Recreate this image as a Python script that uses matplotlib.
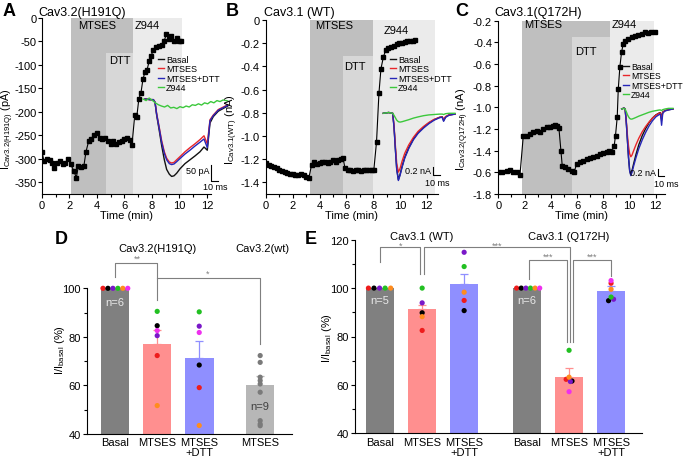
import matplotlib
matplotlib.use('Agg')
import matplotlib.pyplot as plt
import numpy as np

plt.rcParams['font.family'] = ['Liberation Sans', 'DejaVu Sans']
plt.rcParams['mathtext.default'] = 'regular'
plt.rcParams['axes.unicode_minus'] = False
plt.rcParams['axes.linewidth'] = 0.8

W, H = 683, 460

# ---- time courses (black squares) ----
tA = [0.0, 0.15, 0.35, 0.55, 0.75, 0.9, 1.1, 1.3, 1.5, 1.7,
      1.9, 2.1, 2.3, 2.5, 2.65, 2.85, 3.05, 3.2, 3.4, 3.6,
      3.8, 4.0, 4.2, 4.4, 4.6, 4.8, 5.0, 5.2, 5.4, 5.6,
      5.8, 6.0, 6.2, 6.4, 6.55, 6.75, 6.9, 7.05, 7.2, 7.35,
      7.5, 7.65, 7.8, 7.95, 8.1, 8.3, 8.5, 8.7, 8.9, 9.05,
      9.25, 9.4, 9.6, 9.8, 10.0, 10.15]
iA = [-285, -305, -300, -302, -308, -320, -308, -305, -312, -310,
      -300, -312, -325, -340, -315, -318, -315, -285, -262, -258,
      -250, -245, -255, -258, -255, -262, -268, -262, -268, -265,
      -262, -258, -255, -260, -270, -207, -210, -172, -160, -130,
      -115, -110, -92, -80, -68, -62, -60, -58, -48, -35,
      -45, -38, -48, -42, -50, -48]

tB = [0.0, 0.2, 0.4, 0.6, 0.8, 1.0, 1.2, 1.4, 1.6, 1.8,
      2.0, 2.2, 2.4, 2.6, 2.8, 3.0, 3.2, 3.4, 3.6, 3.8,
      4.0, 4.2, 4.4, 4.6, 4.8, 5.0, 5.2, 5.4, 5.6, 5.75,
      5.9, 6.1, 6.3, 6.5, 6.7, 6.9, 7.1, 7.3, 7.5, 7.7,
      7.9, 8.05, 8.25, 8.43, 8.58, 8.76, 8.93, 9.13, 9.35, 9.55,
      9.75, 9.95, 10.15, 10.35, 10.55, 10.75, 10.95, 11.15]
iB = [-1.235, -1.25, -1.26, -1.27, -1.28, -1.29, -1.30, -1.31, -1.32, -1.33,
      -1.33, -1.34, -1.34, -1.33, -1.34, -1.35, -1.36, -1.25, -1.22, -1.24,
      -1.23, -1.22, -1.22, -1.23, -1.22, -1.21, -1.22, -1.21, -1.20, -1.19,
      -1.28, -1.29, -1.29, -1.30, -1.29, -1.29, -1.30, -1.29, -1.29, -1.29,
      -1.29, -1.29, -1.05, -0.63, -0.42, -0.32, -0.26, -0.24, -0.23, -0.22,
      -0.21, -0.20, -0.20, -0.19, -0.18, -0.18, -0.18, -0.17]

tC = [0.0, 0.26, 0.64, 0.89, 1.14, 1.4, 1.65, 1.9, 2.16, 2.41,
      2.66, 2.92, 3.17, 3.42, 3.68, 3.93, 4.19, 4.31, 4.44, 4.62,
      4.77, 4.87, 5.08, 5.33, 5.58, 5.78, 5.96, 6.22, 6.47, 6.72,
      6.98, 7.23, 7.49, 7.74, 7.99, 8.25, 8.42, 8.63, 8.83, 8.93,
      9.06, 9.14, 9.26, 9.39, 9.52, 9.69, 9.9, 10.15, 10.4, 10.66,
      10.91, 11.17, 11.42, 11.67, 11.93]
iC = [-1.60, -1.594, -1.585, -1.575, -1.594, -1.60, -1.625, -1.268, -1.26, -1.246,
      -1.23, -1.215, -1.225, -1.20, -1.185, -1.185, -1.17, -1.163, -1.175, -1.194,
      -1.40, -1.538, -1.554, -1.57, -1.585, -1.60, -1.523, -1.508, -1.492, -1.477,
      -1.47, -1.46, -1.446, -1.43, -1.42, -1.41, -1.40, -1.415, -1.354, -1.26,
      -1.09, -0.83, -0.63, -0.49, -0.415, -0.385, -0.37, -0.354, -0.34, -0.332,
      -0.323, -0.308, -0.314, -0.308, -0.302]

# drug application windows (min): MTSES, DTT (start, end, top), Z944
winA = {'mtses': (2.1, 6.6), 'dtt': (4.65, 6.6, -75), 'z944': (6.6, 10.2)}
winB = {'mtses': (3.3, 8.0), 'dtt': (5.75, 8.0, -0.31), 'z944': (8.0, 12.65)}
winC = {'mtses': (1.78, 8.5), 'dtt': (5.58, 8.5, -0.35), 'z944': (8.5, 11.85)}

# ---- current traces (ms, pA / nA) ----
trA_t = [2.6, 9.1, 13.4, 15.6, 17.7, 21.2, 24.2, 27.7, 30.7, 34.2, 37.2, 40.3,
         43.7, 48.1, 54.5, 61.0, 67.5, 74.0, 79.2, 83.5, 87.0, 91.3, 97.8, 110]
trA_basal = [0, -2, -2, -10, -50, -100, -145, -190, -220, -235, -242, -240,
             -232, -218, -202, -190, -178, -165, -150, -160, -75, -55, -38, -22]
trA_mtses = [0, -2, -2, -10, -45, -90, -130, -165, -185, -197, -200, -198,
             -190, -180, -165, -152, -140, -127, -115, -140, -65, -50, -33, -18]
trA_dtt = [0, -2, -2, -10, -47, -93, -135, -170, -190, -202, -205, -203,
           -196, -186, -172, -160, -147, -135, -125, -152, -68, -52, -35, -20]
trA_z_t = [0, 4, 8, 12, 16, 20, 24, 28, 32, 36, 40, 44, 48, 52,
           56, 60, 64, 68, 72, 76, 80, 84, 88, 92, 96, 100, 104, 110]
trA_z944 = [0, -5, 3, -4, -12, -18, -22, -25, -20, -28, -26, -30, -24, -27,
            -22, -25, -18, -20, -15, -19, -12, -15, -8, -12, -5, -8, -3, -6]

trB_t = [0, 8, 14, 16, 18, 20, 22.5, 25, 28, 32, 38, 45, 52, 60, 68, 76, 84, 88, 90, 93, 98, 107]
trB_basal = [0, 0.02, 0, -0.33, -0.88, -1.38, -1.66, -1.53, -1.33, -1.1, -0.86, -0.64,
             -0.48, -0.35, -0.24, -0.16, -0.1, -0.09, -0.18, -0.09, -0.04, -0.02]
trB_mtses = [0, 0.02, 0, -0.3, -0.8, -1.25, -1.47, -1.38, -1.2, -1.0, -0.79, -0.6,
             -0.45, -0.33, -0.23, -0.15, -0.1, -0.09, -0.15, -0.08, -0.04, -0.02]
trB_dtt = [0, 0.02, 0, -0.35, -0.9, -1.4, -1.68, -1.55, -1.35, -1.12, -0.88, -0.66,
           -0.5, -0.37, -0.26, -0.17, -0.11, -0.1, -0.2, -0.1, -0.05, -0.02]
trB_z944 = [0, 0.02, 0, -0.05, -0.11, -0.17, -0.21, -0.22, -0.21, -0.19, -0.16, -0.12,
            -0.09, -0.06, -0.04, -0.03, -0.02, -0.02, -0.03, -0.01, 0, 0]

trC_t = [0, 4, 6, 8, 10, 12, 14, 16, 18, 21, 25, 30, 36, 42, 48, 54, 60, 66, 68, 70, 72, 76, 82, 90]
trC_basal = [0, 0.03, 0, -0.4, -0.95, -1.5, -1.9, -2.02, -1.9, -1.68, -1.4, -1.1,
             -0.82, -0.6, -0.42, -0.28, -0.18, -0.12, -0.11, -0.3, -0.09, -0.05, -0.02, 0]
trC_mtses = [0, 0.03, 0, -0.35, -0.8, -1.15, -1.38, -1.47, -1.42, -1.28, -1.1, -0.9,
             -0.7, -0.54, -0.4, -0.28, -0.19, -0.13, -0.12, -0.35, -0.1, -0.05, -0.02, 0]
trC_dtt = [0, 0.03, 0, -0.4, -0.95, -1.5, -1.9, -2.05, -1.95, -1.75, -1.5, -1.22,
           -0.95, -0.72, -0.52, -0.36, -0.24, -0.17, -0.16, -0.5, -0.13, -0.06, -0.03, 0]
trC_z944 = [0, 0.02, 0, -0.08, -0.17, -0.24, -0.29, -0.31, -0.31, -0.29, -0.26, -0.22,
            -0.18, -0.14, -0.1, -0.07, -0.05, -0.03, -0.03, -0.05, -0.02, 0, 0.02, 0.02]

# ---- summary bars ----
d_labels = ['Basal', 'MTSES', 'MTSES\n+DTT', 'MTSES']
d_pos = [0, 1, 2, 3.45]
d_means = [100, 77.1, 71.2, 60.2]
d_sem = [0, 5.9, 7.1, 3.8]
d_basal = [100, 100, 100, 100, 100, 100]
d_mtses = [72.3, 84.6, 80.5, 90.5, 51.7, 82.6]
d_dtt = [59.1, 68.4, 84.4, 90.3, 43.5, 81.8]
d_wt = [72.3, 69.5, 63.4, 62.0, 60.6, 57.2, 45.5, 44.1, 43.4]

e_labels = ['Basal', 'MTSES', 'MTSES\n+DTT', 'Basal', 'MTSES', 'MTSES\n+DTT']
e_pos = [0, 1, 2, 3.5, 4.5, 5.5]
e_means = [100, 91.2, 101.8, 100, 63.2, 98.6]
e_sem = [0, 1.9, 4.0, 0, 3.7, 2.2]
e_wt_basal = [100, 100, 100, 100, 100]
e_wt_mtses = [82.5, 89.8, 93.9, 100, 88.2]
e_wt_dtt = [94.9, 90.7, 114.8, 108.9, 98.3]
e_q_basal = [100, 100, 100, 100, 100, 100]
e_q_mtses = [62.3, 61.6, 61.4, 74.3, 63.2, 57.2]
e_q_dtt = [102.0, 94.8, 95.4, 96.3, 99.5, 103.1]

cell_colors = ['#ee1c1c', '#000000', '#7a18c8', '#22c022', '#ff8c1e', '#ee30ee']
bar_colors = {'basal': '#808080', 'mtses': '#ff8f8f', 'dtt': '#8f8fff', 'wt': '#b7b7b7'}
tr_colors = {'Basal': '#111111', 'MTSES': '#e8262a', 'MTSES+DTT': '#2626b8', 'Z944': '#3cc83c'}
shade = {'mtses': '#bfbfbf', 'dtt': '#d7d7d7', 'z944': '#ebebeb'}
gcol = '#7f7f7f'

fig = plt.figure(figsize=(W / 100, H / 100), dpi=100)


def fx(px):
    return px / W


def fy(py):
    return 1 - py / H


def add_ax(left, top, right, bottom):
    return fig.add_axes([left / W, 1 - bottom / H, (right - left) / W, (bottom - top) / H])


def time_course(ax, t, i, win, xlim, ylim, yticks, yticklabels):
    ax.axvspan(*win['mtses'], color=shade['mtses'], lw=0, zorder=0)
    d0, d1, dtop = win['dtt']
    ax.fill_between([d0, d1], ylim[0], dtop, color=shade['dtt'], lw=0, zorder=0)
    ax.axvspan(*win['z944'], color=shade['z944'], lw=0, zorder=0)
    ax.plot(t, i, '-s', color='k', ms=3, lw=0.8, zorder=3)
    ax.set_xlim(*xlim)
    ax.set_ylim(*ylim)
    ax.set_xticks(range(0, 13, 2))
    ax.set_xticks(range(1, 13, 2), minor=True)
    ax.set_yticks(yticks)
    ax.set_yticklabels(yticklabels)
    for s in ['top', 'right']:
        ax.spines[s].set_visible(False)
    ax.tick_params(labelsize=8, length=3, width=0.8, pad=1.5)
    ax.tick_params(which='minor', length=2, width=0.8)
    ax.set_xlabel('Time (min)', fontsize=8, labelpad=0)


def trace_ax(px0, py0, sx, sy, left, top, right, bottom):
    ax = add_ax(left, top, right, bottom)
    ax.set_xlim((left - px0) / sx, (right - px0) / sx)
    ax.set_ylim(-(bottom - py0) / sy, (py0 - top) / sy)
    ax.axis('off')
    return ax


def draw_traces(ax, t, basal, mtses, dtt, zt, z944, legend_xy, fs=6.5):
    hb, = ax.plot(t, basal, color=tr_colors['Basal'], lw=1.0, label='Basal')
    hm, = ax.plot(t, mtses, color=tr_colors['MTSES'], lw=1.0, label='MTSES')
    hd, = ax.plot(t, dtt, color=tr_colors['MTSES+DTT'], lw=1.0, label='MTSES+DTT')
    hz, = ax.plot(zt, z944, color=tr_colors['Z944'], lw=1.0, label='Z944')
    ax.legend(handles=[hb, hm, hd, hz], loc='upper left',
              bbox_to_anchor=(fx(legend_xy[0]), fy(legend_xy[1])), bbox_transform=fig.transFigure,
              frameon=False, fontsize=fs, handlelength=0.7, handletextpad=0.2,
              labelspacing=0.05, borderpad=0, borderaxespad=0)


def scale_bar(ax, x, y, dy, dx=10):
    ax.plot([x, x, x + dx], [y + dy, y, y], color='k', lw=0.8, clip_on=False)


# ---------------- Panel A ----------------
axA = add_ax(42, 19, 211, 195)
time_course(axA, tA, iA, winA, (0, 12.3), (-375, 0), range(0, -351, -50),
            [str(v) for v in range(0, -351, -50)])
axA.tick_params(axis='y', pad=1.0)
axA.text(4.0, -15, 'MTSES', fontsize=8, ha='center', va='center')
axA.text(5.65, -90, 'DTT', fontsize=8, ha='center', va='center')
axA.text(7.65, -15, 'Z944', fontsize=8, ha='center', va='center')
insA = trace_ax(143, 100, 0.77, 0.32, 138, 55, 235, 198)
draw_traces(insA, trA_t, trA_basal, trA_mtses, trA_dtt, trA_z_t, trA_z944, (158, 56))
scale_bar(insA, 88, -256, 50)
insA.text(86, -222, '50 pA', fontsize=6.5, ha='right', va='center')
insA.text(94, -274, '10 ms', fontsize=6.5, ha='center', va='center')
fig.text(fx(8), fy(129), 'I$_{Cav3.2(H191Q)}$ (pA)', rotation=90, fontsize=7.8, ha='center', va='center')
fig.text(fx(38), fy(13), 'Cav3.2(H191Q)', fontsize=9, ha='left', va='center')
fig.text(fx(9), fy(12), 'A', fontsize=13, fontweight='bold', ha='center', va='center')

# ---------------- Panel B ----------------
axB = add_ax(266, 21, 437.5, 195)
yb = [0, -0.2, -0.4, -0.6, -0.8, -1.0, -1.2, -1.4]
time_course(axB, tB, iB, winB, (0, 12.8), (-1.5, 0), yb,
            ['0', '-0.2', '-0.4', '-0.6', '-0.8', '-1.0', '-1.2', '-1.4'])
axB.text(5.05, -0.04, 'MTSES', fontsize=8, ha='center', va='center')
axB.text(6.6, -0.40, 'DTT', fontsize=8, ha='center', va='center')
axB.text(9.7, -0.086, 'Z944', fontsize=8, ha='center', va='center')
insB = trace_ax(383.3, 114.3, 0.67, 40, 378, 55, 456, 198)
draw_traces(insB, trB_t, trB_basal, trB_mtses, trB_dtt, trB_t, trB_z944, (390, 56))
scale_bar(insB, 74, -1.54, 0.2)
insB.text(71.5, -1.44, '0.2 nA', fontsize=6.5, ha='right', va='center')
insB.text(80, -1.73, '10 ms', fontsize=6.5, ha='center', va='center')
fig.text(fx(232), fy(130), 'I$_{Cav3.1(WT)}$ (nA)', rotation=90, fontsize=8, ha='center', va='center')
fig.text(fx(264), fy(13), 'Cav3.1 (WT)', fontsize=9, ha='left', va='center')
fig.text(fx(232), fy(12), 'B', fontsize=13, fontweight='bold', ha='center', va='center')

# ---------------- Panel C ----------------
axC = add_ax(498.3, 21.7, 665, 195)
yc = [-0.2, -0.4, -0.6, -0.8, -1.0, -1.2, -1.4, -1.6, -1.8]
time_course(axC, tC, iC, winC, (0, 12.7), (-1.8, -0.2), yc,
            ['-0.2', '-0.4', '-0.6', '-0.8', '-1.0', '-1.2', '-1.4', '-0.6', '-1.8'])
axC.text(3.4, -0.23, 'MTSES', fontsize=8, ha='center', va='center')
axC.text(6.64, -0.48, 'DTT', fontsize=8, ha='center', va='center')
axC.text(9.62, -0.23, 'Z944', fontsize=8, ha='center', va='center')
insC = trace_ax(621.7, 110, 0.57, 32.5, 615, 55, 683, 198)
draw_traces(insC, trC_t, trC_basal, trC_mtses, trC_dtt, trC_t, trC_z944, (623, 63), fs=6.2)
scale_bar(insC, 63.7, -2.05, 0.2)
insC.text(60.5, -1.95, '0.2 nA', fontsize=6.5, ha='right', va='center')
insC.text(77.5, -2.28, '10 ms', fontsize=6.5, ha='center', va='center')
fig.text(fx(463), fy(129), 'I$_{Cav3.2(Q172H)}$ (nA)', rotation=90, fontsize=8, ha='center', va='center')
fig.text(fx(494), fy(13), 'Cav3.1(Q172H)', fontsize=9, ha='left', va='center')
fig.text(fx(462), fy(12), 'C', fontsize=13, fontweight='bold', ha='center', va='center')


# ---------------- summary helpers ----------------
def bar_panel(ax, pos, means, sem, colors, labels, ylim, yticks, minor):
    ax.bar(pos, means, width=0.68, color=colors, zorder=1)
    for p, m, s, c in zip(pos, means, sem, colors):
        if s > 0:
            ax.errorbar(p, m, yerr=[[0], [s]], color=c, capsize=3, lw=0.9, capthick=0.9, zorder=2)
    ax.set_xticks(pos)
    ax.set_xticklabels(labels, fontsize=8, linespacing=1.0)
    ax.set_ylim(*ylim)
    ax.set_yticks(yticks)
    ax.set_yticks(minor, minor=True)
    for s in ['top', 'right']:
        ax.spines[s].set_visible(False)
    ax.tick_params(labelsize=8, length=3, width=0.8, pad=1.5)
    ax.tick_params(axis='x', length=0, pad=2.5)
    ax.tick_params(which='minor', length=2, width=0.8)


def dots(ax, x, vals, colors, dx=None):
    if dx is None:
        dx = [0] * len(vals)
    ax.scatter([x + d for d in dx], vals, s=14, c=colors, lw=0, zorder=4, clip_on=False)


def bracket(ax, x0, x1, y, y0, y1, stars, sx, sy):
    ax.plot([x0, x0, x1, x1], [y0, y, y, y1], color=gcol, lw=0.8, clip_on=False, zorder=5)
    if stars:
        ax.text(sx, sy, stars, color=gcol, fontsize=6.5, ha='center', va='center')


# ---------------- Panel D ----------------
axD = add_ax(87, 289.3, 291.7, 435)
bar_panel(axD, d_pos, d_means, d_sem,
          [bar_colors['basal'], bar_colors['mtses'], bar_colors['dtt'], bar_colors['wt']],
          d_labels, (40, 100), [40, 60, 80, 100], [50, 70, 90])
axD.set_xlim(-0.67, 4.2)
dots(axD, d_pos[0], d_basal, cell_colors, list(np.linspace(-0.29, 0.3, 6)))
dots(axD, d_pos[1], d_mtses, cell_colors)
dots(axD, d_pos[2], d_dtt, cell_colors)
dots(axD, d_pos[3], d_wt, ['#7a7a7a'] * len(d_wt))
axD.text(d_pos[0], 94.5, 'n=6', color='#e8e8e8', fontsize=8, ha='center', va='center', zorder=6)
axD.text(d_pos[3], 51.7, 'n=9', color='#404040', fontsize=8, ha='center', va='center', zorder=6)
bracket(axD, 0, 1, 110.3, 104.6, 95, '**', 0.52, 112.3)
bracket(axD, 1, d_pos[3], 104.1, 104.1, 77, '*', 2.2, 106.3)
axD.text(1, 116.8, 'Cav3.2(H191Q)', fontsize=8, ha='center', va='center')
axD.text(3.5, 116.8, 'Cav3.2(wt)', fontsize=8, ha='center', va='center')
fig.text(fx(60), fy(350), 'I/I$_{basal}$ (%)', rotation=90, fontsize=8, ha='center', va='center')
fig.text(fx(61), fy(240), 'D', fontsize=13, fontweight='bold', ha='center', va='center')

# ---------------- Panel E ----------------
axE = add_ax(355, 240.7, 641.7, 434.3)
bar_panel(axE, e_pos, e_means, e_sem,
          [bar_colors['basal'], bar_colors['mtses'], bar_colors['dtt']] * 2,
          e_labels, (40, 120), [40, 60, 80, 100, 120], [50, 70, 90, 110])
axE.set_xlim(-0.6, 6.23)
dots(axE, e_pos[0], e_wt_basal, cell_colors[:5], list(np.linspace(-0.28, 0.25, 5)))
dots(axE, e_pos[1], e_wt_mtses, cell_colors[:5])
dots(axE, e_pos[2], e_wt_dtt, cell_colors[:5])
dots(axE, e_pos[3], e_q_basal, cell_colors, list(np.linspace(-0.25, 0.3, 6)))
dots(axE, e_pos[4], e_q_mtses, cell_colors, [-0.07, 0.07, 0.03, 0, 0, 0])
dots(axE, e_pos[5], e_q_dtt, cell_colors, [0, -0.06, 0.06, 0, 0, 0])
axE.text(e_pos[0], 94.9, 'n=5', color='#e8e8e8', fontsize=8, ha='center', va='center', zorder=6)
axE.text(e_pos[3], 94.9, 'n=6', color='#e8e8e8', fontsize=8, ha='center', va='center', zorder=6)
bracket(axE, 0, 0.95, 116.9, 110.7, 105.9, '*', 0.48, 117.9)
bracket(axE, 1.05, 4.52, 116.9, 105.9, 77.7, '***', 2.78, 117.9)
bracket(axE, 3.55, 4.445, 111.8, 103.8, 77.7, '***', 4.0, 113.0)
bracket(axE, 4.6, 5.49, 111.8, 77.7, 105.2, '***', 5.05, 113.0)
axE.text(1.0, 121.5, 'Cav3.1 (WT)', fontsize=8, ha='center', va='center')
axE.text(4.5, 121.5, 'Cav3.1 (Q172H)', fontsize=8, ha='center', va='center')
fig.text(fx(327), fy(338), 'I/I$_{basal}$ (%)', rotation=90, fontsize=8, ha='center', va='center')
fig.text(fx(311), fy(240), 'E', fontsize=13, fontweight='bold', ha='center', va='center')

fig.savefig('out.png', dpi=100)
